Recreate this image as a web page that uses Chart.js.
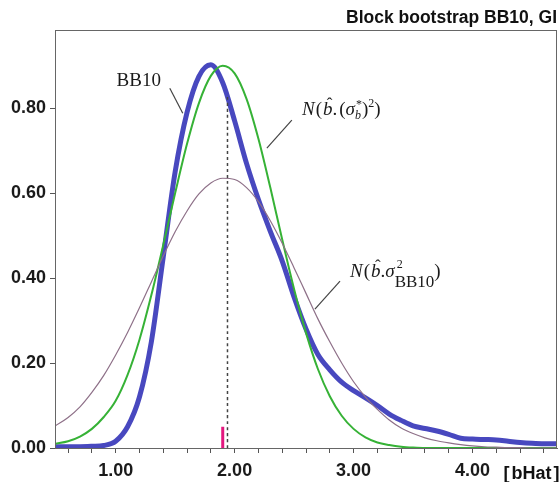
<!DOCTYPE html>
<html>
<head>
<meta charset="utf-8">
<script src="https://cdn.jsdelivr.net/npm/chart.js@4.4.0/dist/chart.umd.min.js"></script>
<style>
    html, body { margin: 0; padding: 0; background: #fff; }
    #wrap { width: 559px; height: 482px; }
</style>
</head>
<body>
<div id="wrap"><canvas id="chartMain" width="559" height="482"></canvas></div>
<script>
// ========== DATA ==========
const bHat = [0.49, 0.6, 0.7, 0.8, 0.9, 1.0, 1.1, 1.2, 1.3, 1.4, 1.5, 1.6, 1.7, 1.8, 1.9,
              2.0, 2.1, 2.2, 2.3, 2.4, 2.5, 2.6, 2.7, 2.8, 2.9, 3.0, 3.1, 3.2, 3.3, 3.4,
              3.5, 3.6, 3.7, 3.8, 3.9, 4.0, 4.1, 4.2, 4.3, 4.4, 4.5, 4.6, 4.71];

// block bootstrap density (thick blue)
const densityBB10 = [0.003, 0.003, 0.003, 0.004, 0.006, 0.016, 0.050, 0.120, 0.250, 0.450,
                     0.650, 0.790, 0.875, 0.902, 0.860, 0.770, 0.670, 0.585, 0.510, 0.440,
                     0.355, 0.280, 0.220, 0.184, 0.155, 0.135, 0.118, 0.100, 0.080, 0.065,
                     0.052, 0.046, 0.040, 0.032, 0.023, 0.021, 0.020, 0.019, 0.016, 0.013,
                     0.011, 0.010, 0.010];

// N(b, (sigma*_b)^2) (green)
const normalStar = [0.010, 0.016, 0.027, 0.045, 0.073, 0.111, 0.172, 0.255, 0.360, 0.478,
                    0.600, 0.716, 0.812, 0.876, 0.900, 0.882, 0.822, 0.728, 0.613, 0.491,
                    0.374, 0.271, 0.186, 0.122, 0.076, 0.045, 0.025, 0.013, 0.007, 0.003,
                    0.001, 0, 0, 0, 0, 0, 0, 0, 0, 0,
                    0, 0, 0];

// N(b, sigma^2_BB10) (thin mauve)
const normalBB10 = [0.052, 0.072, 0.097, 0.131, 0.171, 0.219, 0.272, 0.330, 0.391, 0.452,
                    0.509, 0.558, 0.598, 0.624, 0.635, 0.632, 0.613, 0.580, 0.535, 0.482,
                    0.424, 0.364, 0.304, 0.250, 0.200, 0.156, 0.120, 0.091, 0.066, 0.047,
                    0.034, 0.024, 0.017, 0.012, 0.008, 0.005, 0.003, 0.002, 0.001, 0.001,
                    0, 0, 0];

const xTicks = [0.6, 0.8, 1.0, 1.2, 1.4, 1.6, 1.8, 2.0, 2.2, 2.4, 2.6, 2.8, 3.0, 3.2, 3.4,
                3.6, 3.8, 4.0, 4.2, 4.4, 4.6];
const yTicks = [0, 0.2, 0.4, 0.6, 0.8];

const estimateX = 1.94;     // dashed line
const estimateTop = 0.826;
const markX = 1.90;         // pink marker
const markHeight = 0.05;

const toPoints = (ys) => bHat.map((x, i) => ({ x: x, y: ys[i] }));

// ========== OVERLAY (frame, title, labels) ==========
const SERIF = '"Liberation Serif", "DejaVu Serif", serif';
const SANS = '"Liberation Sans", Arial, sans-serif';

function drawHatB(ctx, x, y) {
    ctx.font = 'italic 19px ' + SERIF;
    ctx.fillText('b', x, y);
    const w = ctx.measureText('b').width;
    ctx.font = '17px ' + SERIF;
    const hw = ctx.measureText('\u02C6').width;
    ctx.fillText('\u02C6', x + w / 2 - hw / 2 + 2, y - 6);
    return w;
}

function piece(ctx, text, font, x, y) {
    ctx.font = font;
    ctx.fillText(text, x, y);
    return ctx.measureText(text).width;
}

const overlay = {
    id: 'overlay',
    afterDraw(chart) {
        const ctx = chart.ctx;
        const a = chart.chartArea;
        const sx = chart.scales.x, sy = chart.scales.y;
        ctx.save();

        // frame
        ctx.strokeStyle = '#666';
        ctx.lineWidth = 1;
        ctx.strokeRect(Math.round(a.left) + 0.5, Math.round(a.top) + 0.5,
                       Math.round(a.right - a.left) - 1, Math.round(a.bottom - a.top));

        // title
        ctx.fillStyle = '#111';
        ctx.textBaseline = 'alphabetic';
        ctx.textAlign = 'right';
        ctx.font = 'bold 17.5px ' + SANS;
        ctx.fillText('Block bootstrap BB10, GI', 557, 23);

        // axis name
        ctx.textAlign = 'left';
        let bx = sx.getPixelForValue(4) + 31;
        bx += piece(ctx, '[', 'bold 18px ' + SANS, bx, 479) + 2;
        bx += piece(ctx, 'bHat', 'bold 18px ' + SANS, bx, 479) + 2;
        piece(ctx, ']', 'bold 18px ' + SANS, bx, 479);

        // leader lines
        ctx.strokeStyle = '#444';
        ctx.lineWidth = 1.2;
        const seg = (x1, y1, x2, y2) => {
            ctx.beginPath();
            ctx.moveTo(sx.getPixelForValue(x1), sy.getPixelForValue(y1));
            ctx.lineTo(sx.getPixelForValue(x2), sy.getPixelForValue(y2));
            ctx.stroke();
        };
        seg(1.455, 0.847, 1.564, 0.788);
        seg(2.481, 0.772, 2.271, 0.706);
        seg(2.886, 0.393, 2.675, 0.327);

        ctx.fillStyle = '#1a1a1a';
        const up19 = '19px ' + SERIF, it19 = 'italic 19px ' + SERIF;
        const small = '12px ' + SERIF, itSmall = 'italic 12px ' + SERIF;

        // BB10
        piece(ctx, 'BB10', up19, sx.getPixelForValue(1.008), sy.getPixelForValue(0.852));

        // N(b.(sigma*_b)^2)
        let x = sx.getPixelForValue(2.566), y = sy.getPixelForValue(0.784);
        x += piece(ctx, 'N', it19, x, y) + 1;
        x += piece(ctx, '(', up19, x, y) + 1;
        x += drawHatB(ctx, x, y);
        x += piece(ctx, '.', up19, x, y) + 2;
        x += piece(ctx, '(', up19, x, y);
        x += piece(ctx, '\u03C3', it19, x, y);
        const w1 = piece(ctx, '*', small, x + 1, y - 7);
        const w2 = piece(ctx, 'b', itSmall, x, y + 4);
        x += Math.max(w1, w2) + 1;
        x += piece(ctx, ')', up19, x, y);
        x += piece(ctx, '2', small, x, y - 8);
        piece(ctx, ')', up19, x, y);

        // N(b.sigma^2_BB10)
        x = sx.getPixelForValue(2.97); y = sy.getPixelForValue(0.402);
        x += piece(ctx, 'N', it19, x, y) + 1;
        x += piece(ctx, '(', up19, x, y) + 1;
        x += drawHatB(ctx, x, y);
        x += piece(ctx, '.', up19, x, y);
        x += piece(ctx, '\u03C3', it19, x, y);
        piece(ctx, '2', small, x + 2, y - 9);
        x += piece(ctx, 'BB10', '17px ' + SERIF, x, y + 10);
        piece(ctx, ')', up19, x, y);

        ctx.restore();
    }
};

// ========== CHART ==========
const tickFont = { family: SANS, size: 18, weight: 'bold' };

new Chart(document.getElementById('chartMain').getContext('2d'), {
    type: 'line',
    data: {
        datasets: [
            {
                label: 'marker',
                data: [{ x: markX, y: 0 }, { x: markX, y: markHeight }],
                borderColor: '#e3177f',
                borderWidth: 3,
                borderCapStyle: 'butt'
            },
            {
                label: 'estimate',
                data: [{ x: estimateX, y: 0 }, { x: estimateX, y: estimateTop }],
                borderColor: '#444',
                borderWidth: 1.5,
                borderDash: [3, 3]
            },
            {
                label: 'N(b, sigma2 BB10)',
                data: toPoints(normalBB10),
                borderColor: '#8e7088',
                borderWidth: 1.2
            },
            {
                label: 'N(b, sigma*2)',
                data: toPoints(normalStar),
                borderColor: '#36b236',
                borderWidth: 2
            },
            {
                label: 'BB10',
                data: toPoints(densityBB10),
                borderColor: '#4848bf',
                borderWidth: 5
            }
        ]
    },
    options: {
        responsive: false,
        animation: false,
        elements: {
            point: { radius: 0 },
            line: { cubicInterpolationMode: 'monotone', fill: false }
        },
        layout: { padding: { top: 30, right: 2, left: 0, bottom: 0 } },
        plugins: {
            legend: { display: false },
            tooltip: { enabled: false }
        },
        scales: {
            x: {
                type: 'linear',
                min: 0.49,
                max: 4.71,
                afterBuildTicks: (s) => { s.ticks = xTicks.map(v => ({ value: v })); },
                afterFit: (s) => { s.height = 34; },
                grid: { drawOnChartArea: false, tickLength: 5, tickColor: '#555' },
                border: { color: '#666', width: 1 },
                ticks: {
                    autoSkip: false,
                    maxRotation: 0,
                    padding: 7,
                    color: '#1a1a1a',
                    font: tickFont,
                    callback: (v) => Math.abs(v - Math.round(v)) < 1e-6 ? Number(v).toFixed(2) : ''
                }
            },
            y: {
                min: 0,
                max: 0.984,
                afterBuildTicks: (s) => { s.ticks = yTicks.map(v => ({ value: v })); },
                afterFit: (s) => { s.width = 55; },
                grid: { drawOnChartArea: false, tickLength: 5, tickColor: '#555' },
                border: { color: '#666', width: 1 },
                ticks: {
                    padding: 4,
                    color: '#1a1a1a',
                    font: tickFont,
                    callback: (v) => Number(v).toFixed(2)
                }
            }
        }
    },
    plugins: [overlay]
});
</script>
</body>
</html>
